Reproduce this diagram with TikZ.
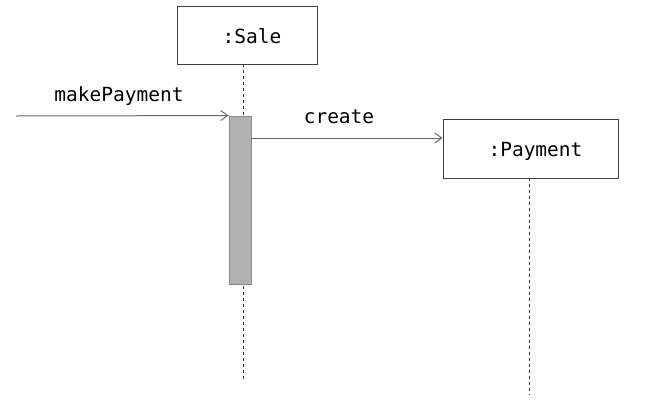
\documentclass[tikz,border=0pt]{standalone}
\usepackage{fontspec}
\setmonofont{DejaVu Sans Mono}
\usetikzlibrary{arrows.meta}
\begin{document}
\begin{tikzpicture}[x=1pt,y=-1pt,
  obj/.style={draw=black!75, line width=0.9pt, fill=white, inner sep=0pt, font=\ttfamily\fontsize{19.5}{23}\selectfont},
  life/.style={draw=black!80, dashed, dash pattern=on 3pt off 3pt, line width=0.8pt},
  actbar/.style={draw=black!45, fill=black!31, line width=0.9pt, inner sep=0pt},
  msg/.style={draw=black!60, line width=1pt, -{Straight Barb[length=7pt,width=10pt]}},
  lbl/.style={font=\ttfamily\fontsize{19.5}{23}\selectfont, inner sep=0pt}]
\useasboundingbox (0,0) rectangle (649,400);
\node[obj, minimum width=140pt, minimum height=58pt] (sale) at (247,35) {\hspace*{10pt}\raisebox{0pt}[17pt][0pt]{:Sale}};
\node[obj, minimum width=175pt, minimum height=59pt] (pay) at (530.5,148.5) {\hspace*{10pt}\raisebox{0pt}[18pt][2pt]{:Payment}};
\coordinate (saleend) at (243,380);
\coordinate (payend) at (529,395);
\draw[life] (sale.south -| saleend) -- (saleend);
\draw[life] (pay.south -| payend) -- (payend);
\node[actbar, minimum width=22pt, minimum height=168pt] (act) at (240,200) {};
\coordinate (src) at (16,116);
\draw[msg] (src) -- (act.north west);
\node[lbl] (mp) at (119,96) {makePayment};
\draw[msg] (act.east |- 0,138) -- (pay.west |- 0,138);
\node[lbl] (cr) at (339,117) {create};
\end{tikzpicture}
\end{document}
